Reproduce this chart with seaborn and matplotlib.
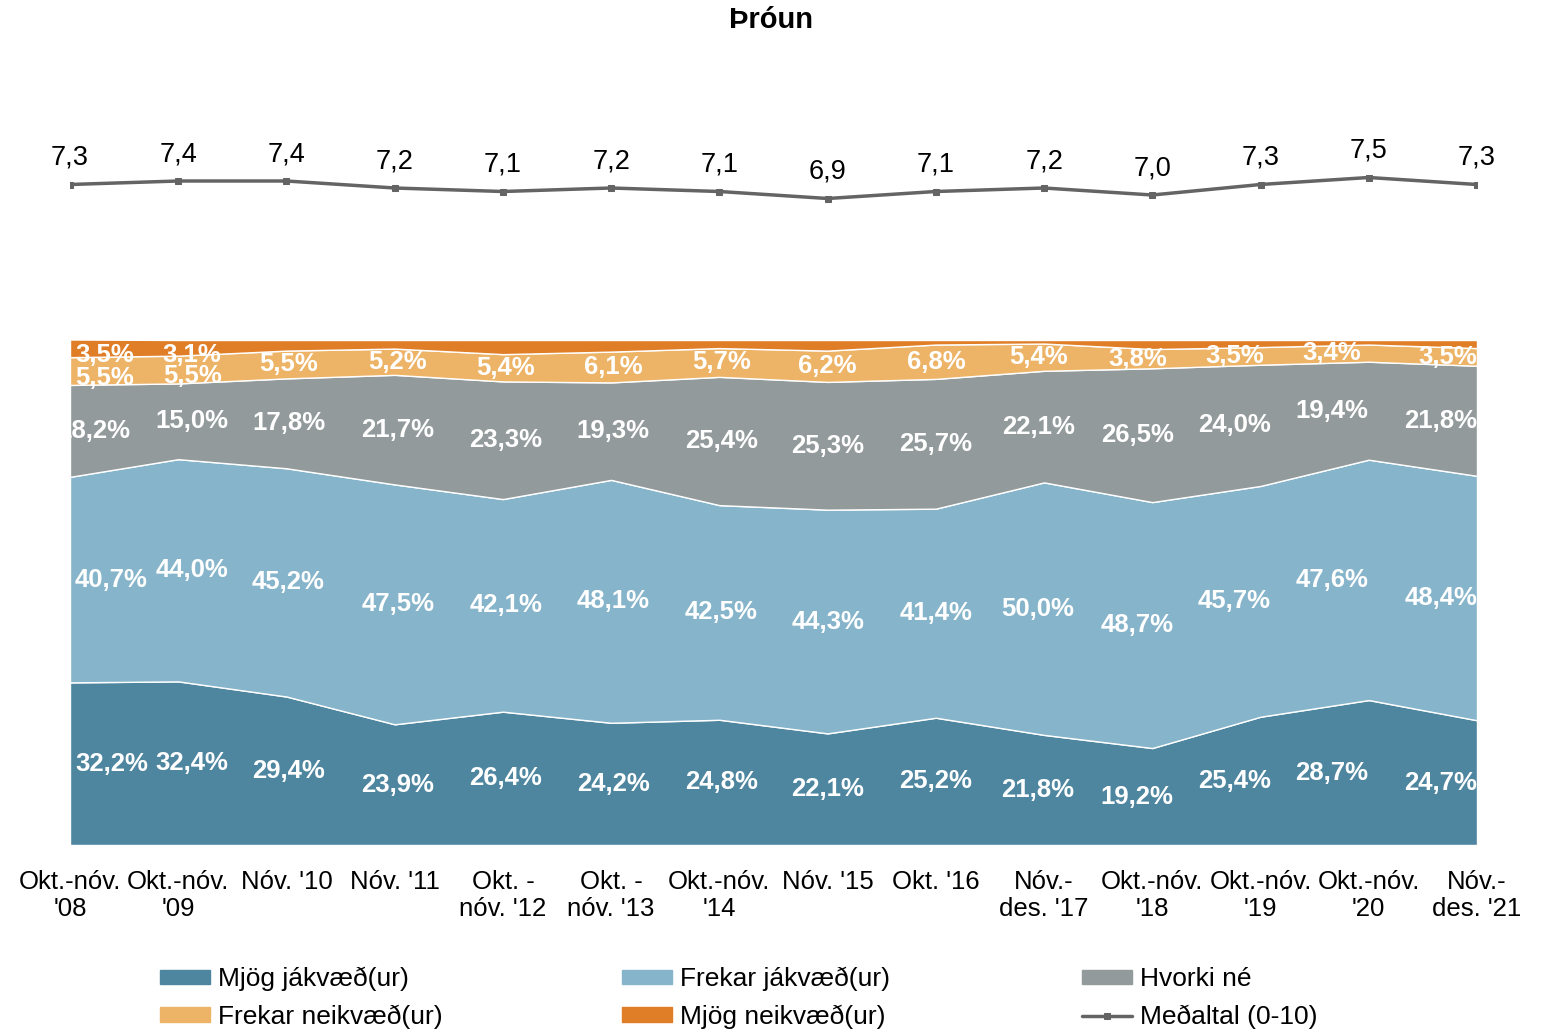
import numpy as np
import pandas as pd
import seaborn as sns
import matplotlib.pyplot as plt
from matplotlib.patches import Patch

# Periods (x axis) and shares in % for each answer group
periods = ["Okt.-nóv.\n'08", "Okt.-nóv.\n'09", "Nóv. '10", "Nóv. '11",
           "Okt. -\nnóv. '12", "Okt. -\nnóv. '13", "Okt.-nóv.\n'14", "Nóv. '15",
           "Okt. '16", "Nóv.-\ndes. '17", "Okt.-nóv.\n'18", "Okt.-nóv.\n'19",
           "Okt.-nóv.\n'20", "Nóv.-\ndes. '21"]
mjog_jakv = [32.2, 32.4, 29.4, 23.9, 26.4, 24.2, 24.8, 22.1, 25.2, 21.8, 19.2, 25.4, 28.7, 24.7]
frekar_jakv = [40.7, 44.0, 45.2, 47.5, 42.1, 48.1, 42.5, 44.3, 41.4, 50.0, 48.7, 45.7, 47.6, 48.4]
hvorki = [18.2, 15.0, 17.8, 21.7, 23.3, 19.3, 25.4, 25.3, 25.7, 22.1, 26.5, 24.0, 19.4, 21.8]
frekar_neikv = [5.5, 5.5, 5.5, 5.2, 5.4, 6.1, 5.7, 6.2, 6.8, 5.4, 3.8, 3.5, 3.4, 3.5]
mjog_neikv = [3.5, 3.1, 2.1, 1.7, 2.8, 2.3, 1.6, 2.1, 0.9, 0.7, 1.8, 1.4, 0.9, 1.6]
medaltal = [7.3, 7.4, 7.4, 7.2, 7.1, 7.2, 7.1, 6.9, 7.1, 7.2, 7.0, 7.3, 7.5, 7.3]

names = ["Mjög jákvæð(ur)", "Frekar jákvæð(ur)", "Hvorki né",
         "Frekar neikvæð(ur)", "Mjög neikvæð(ur)"]
colors = ["#4e86a0", "#86b4ca", "#939a9b", "#edb366", "#e07e27"]
series = [mjog_jakv, frekar_jakv, hvorki, frekar_neikv, mjog_neikv]

# horizontal nudge of the data labels per column (pixels), like the Excel original
label_shift = [0, 14, 2, 3, 3, 2, 2, 0, 0, -6, -15, -26, -37, 0]

sns.set_theme(style="white")
plt.rcParams['font.family'] = ['Liberation Sans', 'DejaVu Sans']
plt.rcParams['text.color'] = 'black'
plt.rcParams['xtick.color'] = 'black'

fig = plt.figure(figsize=(15.47, 10.30), dpi=100)
W, H = 1547, 1030
ax = fig.add_axes([70 / W, (H - 845) / H, 1407 / W, 505 / H])
lax = fig.add_axes([70 / W, (H - 440) / H, 1407 / W, 350 / H])
lax.patch.set_alpha(0)

x = np.arange(len(periods))
ax.stackplot(x, *series, colors=colors, edgecolor="white", linewidth=1)
ax.set_xlim(0, len(periods) - 1)
ax.set_ylim(0, 100)
ax.set_yticks([])
ax.set_xticks(x)
ax.set_xticklabels(periods, fontsize=18.5, linespacing=1.15)
ax.tick_params(axis="x", length=0, pad=18)
for s in ax.spines.values():
    s.set_visible(False)

# data labels in the middle of each band
bottom = np.zeros(len(periods))
for k, vals in enumerate(series):
    vals = np.array(vals)
    for i, v in enumerate(vals):
        if k == 4 and i > 1:
            continue
        yc = bottom[i] + v / 2
        txt = f"{v:.1f}".replace(".", ",") + "%"
        if i == 0:
            dx, ha = (-13 if k == 2 else 5), "left"
        elif i == len(periods) - 1:
            dx, ha = 0, "right"
        else:
            dx, ha = label_shift[i], "center"
        dy = -5 if (k >= 3 and i < 2) else 0
        ax.annotate(txt, (i, yc), xytext=(dx * 0.72, dy), textcoords="offset points",
                    ha=ha, va="center", color="white", fontsize=18.5,
                    fontweight="bold", annotation_clip=False, clip_on=True)
    bottom += vals

# mean line
df = pd.DataFrame({"x": x, "m": medaltal})
sns.lineplot(data=df, x="x", y="m", ax=lax, color="#646464", linewidth=2.5,
             marker="s", markersize=5, markeredgecolor="#646464")
for i, v in enumerate(medaltal):
    lax.annotate(f"{v:.1f}".replace(".", ","), (i, v), xytext=(0, 10),
                 textcoords="offset points", ha="center", va="bottom",
                 fontsize=19.5, color="black", annotation_clip=False)
lax.set_xlim(0, len(periods) - 1)
lax.set_ylim(0, 10)
lax.axis("off")

fig.text(771 / W, 1 - 20 / H, "Þróun", ha="center", va="center",
         fontsize=21, fontweight="bold")

# legend: three evenly spaced columns
handles = [Patch(color=c) for c in colors]
line_h = lax.lines[0]
cols = [([handles[0], handles[3]], [names[0], names[3]], 160),
        ([handles[1], handles[4]], [names[1], names[4]], 622),
        ([handles[2], line_h], [names[2], "Meðaltal (0-10)"], 1082)]
for hs, ls, px in cols:
    fig.legend(hs, ls, loc="center left", bbox_to_anchor=(px / W, 1 - 998 / H),
               frameon=False, fontsize=19, handlelength=1.9, handleheight=0.45,
               labelspacing=0.5, handletextpad=0.3, borderaxespad=0, borderpad=0)

fig.savefig("out.png", dpi=100)
